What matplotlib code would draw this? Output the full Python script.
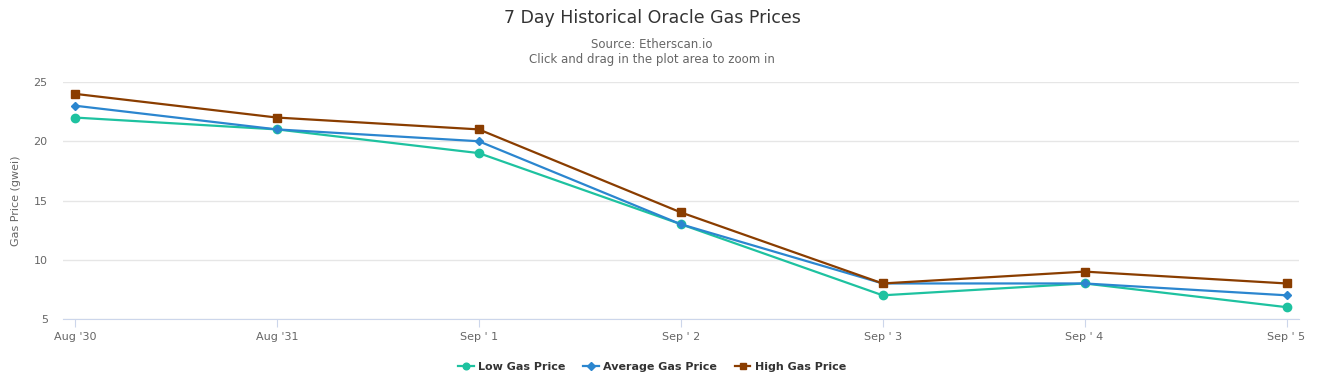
import matplotlib

matplotlib.use("Agg")
import matplotlib.pyplot as plt

dates = ["Aug '30", "Aug '31", "Sep ' 1", "Sep ' 2", "Sep ' 3", "Sep ' 4", "Sep ' 5"]
low_price = [22, 21, 19, 13, 7, 8, 6]
avg_price = [23, 21, 20, 13, 8, 8, 7]
high_price = [24, 22, 21, 14, 8, 9, 8]

plt.rcParams["font.family"] = ["DejaVu Sans"]

fig = plt.figure(figsize=(13.26, 3.81), dpi=100)
ax = fig.add_axes([0.0475, 0.1627, 0.9325, 0.6221])

x = list(range(len(dates)))
ax.plot(x, low_price, color="#1ec2a0", lw=1.6, marker="o", ms=6, label="Low Gas Price", zorder=3)
ax.plot(x, avg_price, color="#2b86cf", lw=1.6, marker="D", ms=4.5, label="Average Gas Price", zorder=4)
ax.plot(x, high_price, color="#8a3d00", lw=1.6, marker="s", ms=6, label="High Gas Price", zorder=5)

ax.set_xlim(-0.059, 6.064)
ax.set_ylim(5, 25)
ax.set_yticks([5, 10, 15, 20, 25])
ax.set_xticks(x)
ax.set_xticklabels(dates)
ax.grid(axis="y", color="#e6e6e6", lw=1)
ax.set_axisbelow(True)
for side in ["left", "right", "top"]:
    ax.spines[side].set_visible(False)
ax.spines["bottom"].set_color("#ccd6eb")
ax.tick_params(axis="x", colors="#ccd6eb", length=6, labelcolor="#666666", labelsize=8)
ax.tick_params(axis="y", length=0, labelcolor="#666666", labelsize=8, pad=11)
ax.set_ylabel("Gas Price (gwei)", color="#666666", fontsize=8, labelpad=9)

cx = 0.4917
fig.text(cx, 0.952, "7 Day Historical Oracle Gas Prices", ha="center", va="center",
         fontsize=12.5, color="#333333")
fig.text(cx, 0.882, "Source: Etherscan.io", ha="center", va="center", fontsize=8.5, color="#666666")
fig.text(cx, 0.845, "Click and drag in the plot area to zoom in", ha="center", va="center",
         fontsize=8.5, color="#666666")

leg = fig.legend(loc="center", bbox_to_anchor=(cx, 0.037), ncol=3, frameon=False,
                 prop={"weight": "bold", "size": 8}, handlelength=1.4, columnspacing=1.6,
                 handletextpad=0.4, markerscale=0.8)
for t in leg.get_texts():
    t.set_color("#333333")

fig.savefig("out.png", dpi=100)
